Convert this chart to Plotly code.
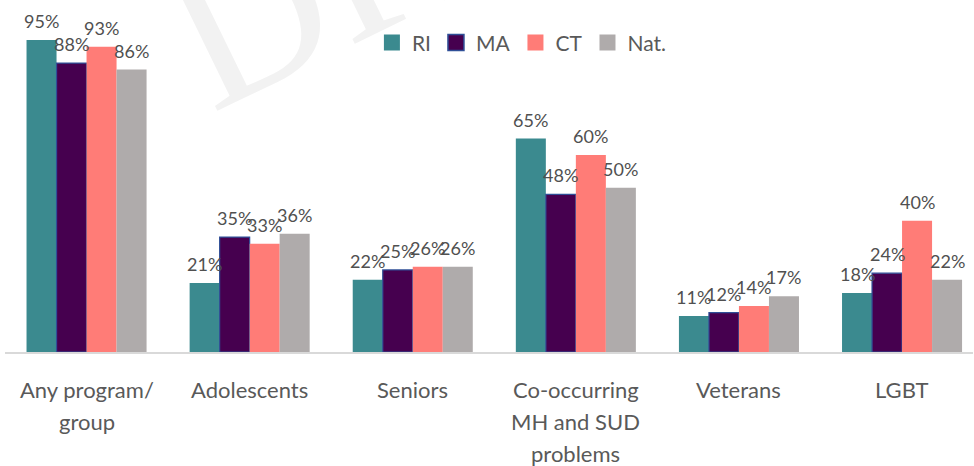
import plotly.graph_objects as go

categories = ["Any program/<br>group", "Adolescents", "Seniors",
              "Co-occurring<br>MH and SUD<br>problems", "Veterans", "LGBT"]
series_names = ["RI", "MA", "CT", "Nat."]
ri = [95, 21, 22, 65, 11, 18]
ma = [88, 35, 25, 48, 12, 24]
ct = [93, 33, 26, 60, 14, 40]
nat = [86, 36, 26, 50, 17, 22]

series_values = [ri, ma, ct, nat]
colors = ["#3B8A8F", "#46004F", "#FF7C77", "#AFABAB"]
edge_colors = ["#3B8A8F", "#2F4F97", "#FF7C77", "#AFABAB"]
edge_widths = [0, 1.2, 0, 0]

FONT = "Lato"
TEXT_COLOR = "#595959"
LABEL_COLOR = "#505050"
bargap = 0.264
n = len(series_names)
w = (1 - bargap) / n
xs = list(range(len(categories)))

fig = go.Figure()
for j, (name, vals) in enumerate(zip(series_names, series_values)):
    fig.add_trace(go.Bar(
        x=xs, y=vals, name=name, showlegend=False,
        marker=dict(color=colors[j], line=dict(color=edge_colors[j], width=edge_widths[j])),
        hoverinfo="skip",
    ))
    # legend entries (square swatches)
    fig.add_trace(go.Scatter(
        x=[None], y=[None], mode="markers", name=name,
        marker=dict(symbol="square", size=16, color=colors[j],
                    line=dict(color=edge_colors[j], width=1.5 if edge_widths[j] else 0)),
    ))

annotations = []
# value labels
for j, vals in enumerate(series_values):
    for i, v in enumerate(vals):
        annotations.append(dict(
            x=i + (j - (n - 1) / 2) * w, y=v, xref="x", yref="y",
            text=f"{v}%", showarrow=False, xanchor="center", yanchor="bottom",
            yshift=6, font=dict(family=FONT, size=18, color=LABEL_COLOR),
        ))
# category labels, one annotation per line for Excel-like line spacing
for i, cat in enumerate(categories):
    for k, line in enumerate(cat.split("<br>")):
        annotations.append(dict(
            x=i, y=0, xref="x", yref="paper", text=line, showarrow=False,
            xanchor="center", yanchor="top", yshift=-22 - 32 * k,
            font=dict(family=FONT, size=22, color=TEXT_COLOR),
        ))
# faint watermark
annotations.append(dict(
    x=0.501, y=1.287, xref="paper", yref="paper", text="DRAFT", showarrow=False,
    textangle=-26, xanchor="center", yanchor="middle",
    font=dict(family="Liberation Serif", size=210, color="#F2F2F2"),
))

fig.update_layout(
    width=974, height=466,
    margin=dict(l=5, r=1, t=0, b=114),
    plot_bgcolor="white", paper_bgcolor="white",
    barmode="group", bargap=bargap, bargroupgap=0,
    showlegend=True,
    legend=dict(orientation="h", x=0.534, y=0.878, xanchor="center", yanchor="middle",
                font=dict(family=FONT, size=21, color=TEXT_COLOR),
                bgcolor="rgba(0,0,0,0)", itemclick=False),
    xaxis=dict(range=[-0.5, 5.435], showgrid=False, zeroline=False, showticklabels=False,
               ticks="", showline=True, linecolor="#D9D9D9", linewidth=2),
    yaxis=dict(range=[0, 107.2], showgrid=False, zeroline=False, showticklabels=False,
               ticks="", showline=False),
    annotations=annotations,
)

fig.write_html("out.html", config={"displayModeBar": False},
               post_script="document.body.style.margin='0';document.body.style.overflow='hidden';")
